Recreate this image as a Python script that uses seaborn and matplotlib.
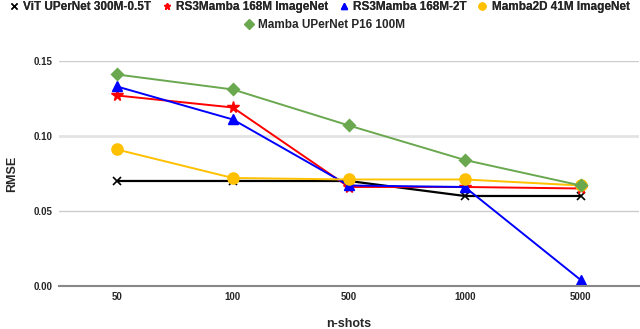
import numpy as np
import pandas as pd
import matplotlib
matplotlib.use("Agg")
import matplotlib.pyplot as plt
from matplotlib.lines import Line2D
import seaborn as sns

# Dados
shots = ["50", "100", "500", "1000", "5000"]
modelos = ["ViT UPerNet 300M-0.5T", "RS3Mamba 168M ImageNet", "RS3Mamba 168M-2T",
           "Mamba2D 41M ImageNet", "Mamba UPerNet P16 100M"]
vit = [0.070, 0.070, 0.070, 0.060, 0.060]
rs3_imagenet = [0.127, 0.119, 0.066, 0.066, 0.065]
rs3_2t = [0.133, 0.111, 0.067, 0.066, 0.004]
mamba2d = [0.091, 0.072, 0.071, 0.071, 0.067]
mamba_upernet = [0.141, 0.131, 0.107, 0.084, 0.067]

cores = ["#000000", "#ff0000", "#0000ff", "#ffc000", "#6aa84f"]
marcadores = ["x", "*", "^", "o", "D"]
tamanhos = [6, 8.5, 7, 8, 6]

series = [vit, rs3_imagenet, rs3_2t, mamba2d, mamba_upernet]
df = pd.DataFrame({
    "n-shots": np.tile(shots, len(modelos)),
    "RMSE": np.concatenate(series),
    "modelo": np.repeat(modelos, len(shots)),
})

sns.set_style("white")
plt.rcParams["font.family"] = ["Liberation Sans", "DejaVu Sans"]
plt.rcParams["font.weight"] = "bold"

fig = plt.figure(figsize=(6.4, 3.29), dpi=100)
ax = fig.add_axes([0.092, 0.1307, 0.906, 0.684])

for nome, cor, mk, ms in zip(modelos, cores, marcadores, tamanhos):
    sub = df[df["modelo"] == nome]
    sns.pointplot(data=sub, x="n-shots", y="RMSE", order=shots, color=cor,
                  marker=mk, markersize=ms,
                  linewidth=1.6 if nome.startswith("ViT") else 1.4,
                  errorbar=None, ax=ax, legend=False)

ax.set_xlim(-0.5, 4.5)
ax.set_ylim(0, 0.15)
ax.set_yticks([0.0, 0.05, 0.10, 0.15])
ax.set_yticklabels(["0.00", "0.05", "0.10", "0.15"])
for v in [0.05, 0.15]:
    ax.axhline(v, color="#cccccc", lw=1.0, zorder=0)
ax.axhline(0.10, color="#e3e3e3", lw=2.0, zorder=0)
for s in ["top", "right", "left"]:
    ax.spines[s].set_visible(False)
ax.spines["bottom"].set_color("#888888")
ax.spines["bottom"].set_linewidth(1.5)
ax.tick_params(axis="both", length=0, labelsize=7)
ax.tick_params(axis="x", pad=4)
ax.tick_params(axis="y", pad=4.5)
ax.set_xlabel("n-shots", fontsize=9, fontweight="bold", labelpad=12)
ax.set_ylabel("RMSE", fontsize=9, fontweight="bold")
ax.yaxis.set_label_coords(-0.0707, 0.5)
for t in ax.get_xticklabels() + ax.get_yticklabels():
    t.set_fontweight("bold")

# Legenda em duas linhas centralizadas
proxies = [Line2D([], [], ls="none", marker=mk, color=c, markersize=5)
           for mk, c in zip(marcadores, cores)]
leg1 = fig.legend(proxies[:4], modelos[:4], loc="upper center", bbox_to_anchor=(0.5, 1.029),
                  ncol=4, frameon=False, fontsize=8.5, handlelength=0.6,
                  handletextpad=0.5, columnspacing=1.0)
fig.legend(proxies[4:], modelos[4:], loc="upper center", bbox_to_anchor=(0.508, 0.974),
           ncol=1, frameon=False, fontsize=8.5, handlelength=0.6, handletextpad=0.5)
fig.add_artist(leg1)

fig.savefig("out.png", dpi=100)
plt.close()
